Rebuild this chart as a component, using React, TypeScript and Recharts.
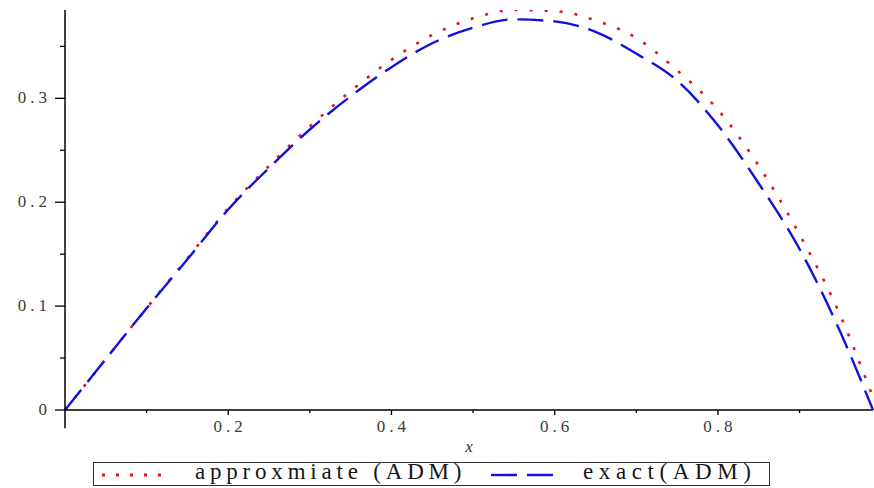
import { Legend, Line, LineChart, ReferenceLine, XAxis, YAxis } from "recharts";

const xs = [0, 0.05, 0.1, 0.15, 0.2, 0.25, 0.3, 0.35, 0.4, 0.45, 0.5, 0.55, 0.6, 0.65, 0.7, 0.75, 0.8, 0.85, 0.9, 0.95, 0.99];
const approx = [0, 0.049, 0.098, 0.146, 0.194, 0.235, 0.273, 0.307, 0.337, 0.361, 0.377, 0.385, 0.384, 0.375, 0.358, 0.327, 0.289, 0.235, 0.169, 0.091, 0.012];
const exact = [0, 0.049, 0.098, 0.145, 0.193, 0.233, 0.27, 0.302, 0.33, 0.353, 0.368, 0.376, 0.374, 0.364, 0.343, 0.317, 0.274, 0.218, 0.155, 0.075, 0];

const xTicks = [0.1, 0.2, 0.3, 0.4, 0.5, 0.6, 0.7, 0.8, 0.9];
const xLabels = [0.2, 0.4, 0.6, 0.8];
const yTicks = [0, 0.05, 0.1, 0.15, 0.2, 0.25, 0.3, 0.35];
const yLabels = [0, 0.1, 0.2, 0.3];

const seriesNames = ["approxmiate (ADM)", "exact(ADM)"];

const data = xs.map((x, i) => ({ x, approx: approx[i], exact: exact[i] }));

const FONT = "'Liberation Serif', 'Times New Roman', serif";

function YTick(props: any) {
  const { x, y, payload } = props;
  const major = yLabels.includes(payload.value);
  return (
    <g>
      <line x1={x - (major ? 10 : 5)} x2={x} y1={y} y2={y} stroke="#000" strokeWidth={1.3} />
      {major && (
        <text x={x - 14} y={y + 5} textAnchor="end" fontSize={17} letterSpacing={4} fill="#3a3a3a" fontFamily={FONT}>
          {payload.value === 0 ? "0" : String(payload.value)}
        </text>
      )}
    </g>
  );
}

function XTick(props: any) {
  const { x, y, payload } = props;
  const major = xLabels.includes(payload.value);
  return (
    <g>
      <line x1={x} x2={x} y1={y} y2={y + (major ? 5 : 3)} stroke="#000" strokeWidth={1.3} />
      {major && (
        <text x={x + 2} y={y + 22} textAnchor="middle" fontSize={17} letterSpacing={4} fill="#3a3a3a" fontFamily={FONT}>
          {String(payload.value)}
        </text>
      )}
    </g>
  );
}

function LegendBox() {
  return (
    <div style={{ position: "relative", height: 33, width: 873 }}>
      <div
        style={{
          position: "absolute",
          left: 93,
          top: 7,
          width: 677,
          height: 24,
          boxSizing: "border-box",
          border: "1.5px solid #333",
          fontFamily: FONT,
          fontSize: 23,
          letterSpacing: 4.8,
          color: "#161616",
          lineHeight: "22px",
          whiteSpace: "nowrap",
        }}
      >
        <svg width={80} height={20} style={{ position: "absolute", left: 6, top: 1 }}>
          <line x1={2} x2={64} y1={11} y2={11} stroke="#e8121c" strokeWidth={2.8} strokeDasharray="3 11" />
        </svg>
        <span style={{ position: "absolute", left: 101, top: -2 }}>{seriesNames[0]}</span>
        <svg width={70} height={20} style={{ position: "absolute", left: 397, top: 1 }}>
          <line x1={0} x2={64} y1={11} y2={11} stroke="#1010e0" strokeWidth={2.4} strokeDasharray="26 10" />
        </svg>
        <span style={{ position: "absolute", left: 489, top: -2, letterSpacing: 5.6 }}>{seriesNames[1]}</span>
      </div>
    </div>
  );
}

export default function App() {
  return (
    <div style={{ position: "absolute", left: 0, top: 0, width: 874, height: 488, background: "#fff" }}>
      <LineChart width={874} height={488} data={data} margin={{ top: 10, right: 1, bottom: 0, left: 0 }}>
        <XAxis
          dataKey="x"
          type="number"
          domain={[0, 0.99]}
          ticks={xTicks}
          interval={0}
          height={45}
          tickSize={0}
          tickMargin={0}
          tick={<XTick />}
          axisLine={{ stroke: "#000", strokeWidth: 1.5 }}
          label={{ value: "x", position: "insideBottom", offset: 3, fontStyle: "italic", fontSize: 17, fill: "#333", fontFamily: FONT }}
        />
        <YAxis
          type="number"
          domain={[0, 0.385]}
          allowDataOverflow
          ticks={yTicks}
          interval={0}
          width={65}
          tickSize={0}
          tickMargin={0}
          tick={<YTick />}
          axisLine={{ stroke: "#000", strokeWidth: 1.5 }}
        />
        <ReferenceLine
          segment={[{ x: 0, y: 0 }, { x: 0, y: -0.0175 }]}
          ifOverflow="visible"
          stroke="#000"
          strokeWidth={1.5}
        />
        <Legend verticalAlign="bottom" content={<LegendBox />} />
        <Line
          type="monotone"
          dataKey="approx"
          name={seriesNames[0]}
          stroke="#e8121c"
          strokeWidth={2.6}
          strokeDasharray="3 12"
          dot={false}
          isAnimationActive={false}
        />
        <Line
          type="monotone"
          dataKey="exact"
          name={seriesNames[1]}
          stroke="#1010e0"
          strokeWidth={2.4}
          strokeDasharray="26 10"
          dot={false}
          isAnimationActive={false}
        />
      </LineChart>
    </div>
  );
}
